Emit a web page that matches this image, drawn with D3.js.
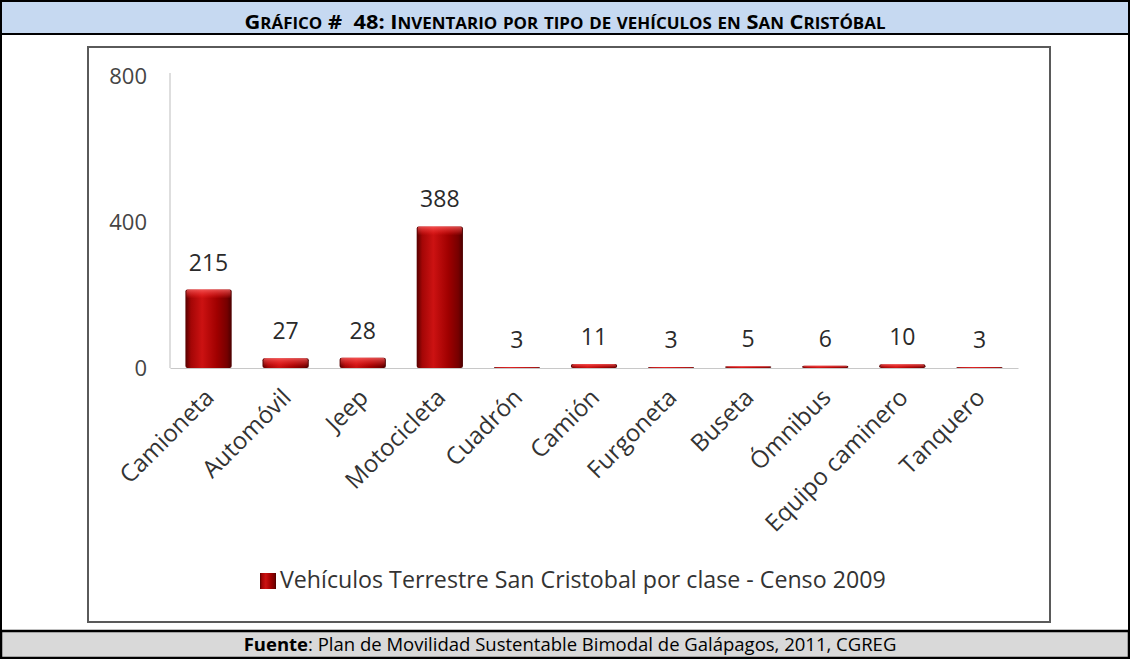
<!DOCTYPE html>
<html lang="es">
<head>
<meta charset="utf-8">
<title>Inventario por tipo de vehículos en San Cristóbal</title>
<script src="https://cdn.jsdelivr.net/npm/d3@7/dist/d3.min.js"></script>
<style>
  html, body { margin: 0; padding: 0; background: #fff; }
  svg { display: block; }
  text { font-family: "Open Sans", "DejaVu Sans", sans-serif; }
</style>
</head>
<body>
<svg id="chart" width="1130" height="659"></svg>
<script>
// Vehicle census, San Cristóbal 2009
const categories = ["Camioneta", "Automóvil", "Jeep", "Motocicleta", "Cuadrón", "Camión",
                    "Furgoneta", "Buseta", "Ómnibus", "Equipo caminero", "Tanquero"];
const values = [215, 27, 28, 388, 3, 11, 3, 5, 6, 10, 3];
const yTicks = [0, 400, 800];

const titleText = "Gráfico #  48: Inventario por tipo de vehículos en San Cristóbal";
const seriesName = "Vehículos Terrestre San Cristobal por clase - Censo 2009";
const sourceLabel = "Fuente";
const sourceText = ": Plan de Movilidad Sustentable Bimodal de Galápagos, 2011, CGREG";

const W = 1130, H = 659;
const svg = d3.select("#chart");
const defs = svg.append("defs");

// Bar body: dark edges, bright red core
const barGrad = defs.append("linearGradient").attr("id", "barGrad")
  .attr("x1", "0").attr("x2", "1").attr("y1", "0").attr("y2", "0");
[[0, "#560000"], [0.12, "#a40606"], [0.36, "#cc1212"], [0.68, "#a00000"], [0.9, "#760000"], [1, "#4a0000"]]
  .forEach(([o, c]) => barGrad.append("stop").attr("offset", o).attr("stop-color", c));

// Bevel highlight on the top of each bar
const capGrad = defs.append("linearGradient").attr("id", "capGrad")
  .attr("x1", "0").attr("x2", "0").attr("y1", "0").attr("y2", "1");
[[0, "#ff6a6a", 0.75], [0.6, "#ff3b3b", 0.35], [1, "#ff2020", 0]]
  .forEach(([o, c, a]) => capGrad.append("stop").attr("offset", o).attr("stop-color", c).attr("stop-opacity", a));

const soft = defs.append("filter").attr("id", "soft").attr("x", "-5%").attr("y", "-50%")
  .attr("width", "110%").attr("height", "200%");
soft.append("feGaussianBlur").attr("stdDeviation", 1.4);

// ---------- Table frame ----------
svg.append("rect").attr("x", 1).attr("y", 1).attr("width", W - 2).attr("height", 33)
  .attr("fill", "#c6d9f1").attr("stroke", "#000").attr("stroke-width", 2);
svg.append("line").attr("x1", 1).attr("x2", 1).attr("y1", 34).attr("y2", 631)
  .attr("stroke", "#000").attr("stroke-width", 2);
svg.append("line").attr("x1", W - 1).attr("x2", W - 1).attr("y1", 34).attr("y2", 631)
  .attr("stroke", "#000").attr("stroke-width", 2);
svg.append("rect").attr("x", 1).attr("y", 631).attr("width", W - 2).attr("height", 27)
  .attr("fill", "#d9d9d9").attr("stroke", "#000").attr("stroke-width", 2.5);

// Title in small caps
const title = svg.append("text").attr("x", W / 2).attr("y", 29)
  .attr("text-anchor", "middle").attr("font-weight", 700).attr("fill", "#000")
  .style("white-space", "pre")
  .attr("textLength", 641).attr("lengthAdjust", "spacingAndGlyphs");
(function smallCaps(str) {
  const runs = [];
  for (const ch of str) {
    const small = ch !== ch.toUpperCase();
    const last = runs[runs.length - 1];
    if (last && last.small === small) last.s += ch; else runs.push({ small, s: ch });
  }
  runs.forEach(r => title.append("tspan")
    .attr("font-size", r.small ? 15.5 : 20)
    .text(r.small ? r.s.toUpperCase() : r.s));
})(titleText);

// Source line
const src = svg.append("text").attr("x", 570).attr("y", 651)
  .attr("text-anchor", "middle").attr("font-size", 18.5).attr("fill", "#000")
  .style("white-space", "pre");
src.append("tspan").attr("font-weight", 700).text(sourceLabel);
src.append("tspan").text(sourceText);

// ---------- Chart panel ----------
svg.append("line").attr("x1", 90).attr("x2", 1048).attr("y1", 47).attr("y2", 47)
  .attr("stroke", "#8a8a8a").attr("stroke-width", 4).attr("filter", "url(#soft)");
svg.append("rect").attr("x", 88).attr("y", 47).attr("width", 962).attr("height", 575)
  .attr("fill", "#fff").attr("stroke", "#5a5a5a").attr("stroke-width", 2);

const plot = { left: 170, right: 1018, top: 76, bottom: 368 };

const x = d3.scaleBand().domain(categories).range([plot.left, plot.right])
  .paddingInner(0.4).paddingOuter(0.2);
const y = d3.scaleLinear().domain([0, 800]).range([plot.bottom, plot.top]);

// Y axis: labels only, light axis line
const yAxis = svg.append("g").attr("transform", `translate(${plot.left},0)`)
  .call(d3.axisLeft(y).tickValues(yTicks).tickSize(0).tickPadding(23).tickFormat(d3.format("d")));
yAxis.select(".domain").attr("stroke", "#c8c8c8").attr("stroke-width", 1.2)
  .attr("d", `M0,${y(800) - 3}V${plot.bottom}`);
yAxis.selectAll("text").attr("font-family", "Open Sans").attr("font-size", 22)
  .attr("fill", "#454545");

// X axis: baseline and rotated category labels
const xAxis = svg.append("g").attr("transform", `translate(0,${plot.bottom})`)
  .call(d3.axisBottom(x).tickSize(0).tickFormat(""));
xAxis.select(".domain").attr("stroke", "#c8c8c8").attr("stroke-width", 1.2);
xAxis.selectAll(".tick").append("text")
  .attr("transform", "translate(7,31) rotate(-45)")
  .attr("text-anchor", "end").attr("font-family", "Open Sans")
  .attr("font-size", 24).attr("fill", "#333")
  .text(d => d);

// Bars
const data = categories.map((c, i) => ({ c, v: values[i] }));
const bars = svg.append("g");
bars.selectAll("rect.bar").data(data).join("rect").attr("class", "bar")
  .attr("x", d => x(d.c)).attr("width", x.bandwidth())
  .attr("y", d => y(d.v)).attr("height", d => y(0) - y(d.v))
  .attr("rx", 2).attr("fill", "url(#barGrad)");
bars.selectAll("rect.cap").data(data).join("rect").attr("class", "cap")
  .attr("x", d => x(d.c) + 1).attr("width", x.bandwidth() - 2)
  .attr("y", d => y(d.v)).attr("height", d => Math.min(9, y(0) - y(d.v)))
  .attr("rx", 2).attr("fill", "url(#capGrad)");

// Value labels
svg.append("g").selectAll("text").data(data).join("text")
  .attr("x", d => x(d.c) + x.bandwidth() / 2).attr("y", d => y(d.v) - 19)
  .attr("text-anchor", "middle").attr("font-size", 23).attr("fill", "#2a2a2a")
  .text(d => d.v);

// Legend
const legend = svg.append("g").attr("transform", "translate(260,573)");
legend.append("rect").attr("width", 16).attr("height", 16).attr("fill", "url(#barGrad)");
legend.append("text").attr("x", 20).attr("y", 15).attr("font-size", 23.2).attr("fill", "#333")
  .text(seriesName);
</script>
</body>
</html>
